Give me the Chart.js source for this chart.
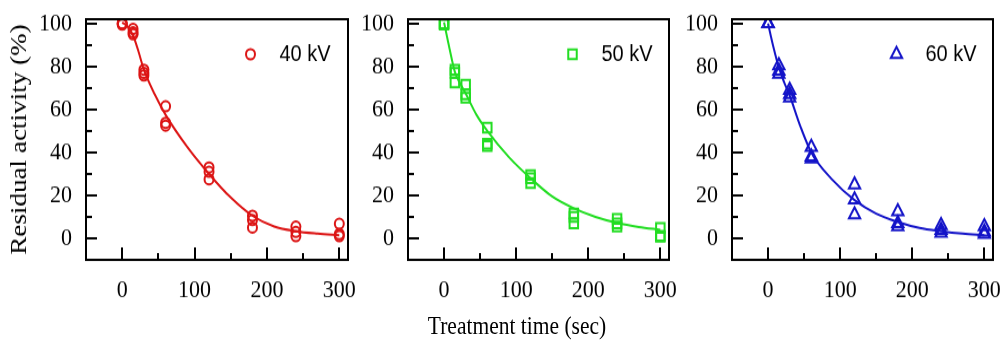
<!DOCTYPE html>
<html>
<head>
<meta charset="utf-8">
<script src="https://cdn.jsdelivr.net/npm/chart.js@4.4.0/dist/chart.umd.min.js"></script>
<style>
  html, body { margin: 0; padding: 0; background: #fff; }
  body { width: 1006px; height: 340px; overflow: hidden; }
  /* the source figure is slightly stretched vertically */
  #figure { position: relative; width: 1006px; height: 301px; transform: scaleY(1.1296); transform-origin: 0 0; }
  #figure canvas { position: absolute; top: 0; }
  #xTitle { position: absolute; left: 417px; top: 278px; width: 200px; text-align: center;
            font: 21.5px "Liberation Serif", "Times New Roman", serif; line-height: 22px; white-space: nowrap; color: #000; }
</style>
</head>
<body>
<div id="figure">
  <canvas id="panel40" width="356" height="301" style="left:0px"></canvas>
  <canvas id="panel50" width="324" height="301" style="left:356px"></canvas>
  <canvas id="panel60" width="326" height="301" style="left:680px"></canvas>
  <div id="xTitle">Treatment time (sec)</div>
</div>
<script>
// measured points, three replicates per treatment time
const sampleTimes = [0, 0, 0, 15, 15, 15, 30, 30, 30, 60, 60, 60, 120, 120, 120, 180, 180, 180, 240, 240, 240, 300, 300, 300];
const activity40 = [100, 100, 99.5, 97.5, 96, 95, 78.5, 77, 75.8, 61.5, 53.8, 52.5, 33, 31, 27.5, 10.5, 8.5, 5, 5.5, 3, 1, 6.8, 2, 1];
const activity50 = [100, 100, 99.5, 78.5, 77, 72.5, 71.5, 67, 65.5, 51.5, 44, 43, 29.5, 28, 25.8, 11.5, 10, 7, 9, 7, 5.5, 4.8, 1.2, 0.8];
const activity60 = [100, 100, 100, 80.5, 78, 76.5, 69, 67, 65.5, 42.5, 38, 37, 25, 18, 11, 12.5, 7, 5.5, 6, 3.8, 2.5, 5.5, 3, 2];

// fitted curves
const fitTimes = [0, 7.5, 15, 22.5, 30, 45, 60, 90, 120, 150, 180, 210, 240, 270, 300];
const fit40 = [100.5, 98.5, 94.5, 87, 78.5, 67, 57.5, 42.5, 30, 19, 10.5, 5.5, 3.3, 2.2, 1.5];
const fit50 = [100.5, 88.5, 77.5, 72, 67.4, 57.5, 50, 37.8, 28, 19.5, 14, 10, 7.2, 5.3, 4];
const fit60 = [100, 89, 79.5, 72.5, 66.5, 52, 40, 27, 17.8, 11.5, 7.6, 4.8, 3.3, 2.2, 1.5];

const xMajorTicks = [0, 100, 200, 300];
const xMinorTicks = [50, 150, 250];
const yMajorTicks = [0, 20, 40, 60, 80, 100];
const yMinorTicks = [10, 30, 50, 70, 90];

const serif = '"Liberation Serif", "Times New Roman", serif';
const sans = '"Liberation Sans", Arial, sans-serif';

// box around the plot, inward ticks and the small legend inside the plot
const framePlugin = {
  id: 'frame',
  afterDatasetsDraw(chart) {
    const { ctx, chartArea: a, scales: { x, y } } = chart;
    ctx.save();
    ctx.strokeStyle = '#000';
    ctx.lineWidth = 2;
    ctx.beginPath();
    yMajorTicks.forEach(v => { const p = Math.round(y.getPixelForValue(v)); ctx.moveTo(a.left, p); ctx.lineTo(a.left + 11, p); });
    yMinorTicks.forEach(v => { const p = Math.round(y.getPixelForValue(v)); ctx.moveTo(a.left, p); ctx.lineTo(a.left + 6, p); });
    xMajorTicks.forEach(v => { const p = Math.round(x.getPixelForValue(v)); ctx.moveTo(p, a.bottom); ctx.lineTo(p, a.bottom - 11); });
    xMinorTicks.forEach(v => { const p = Math.round(x.getPixelForValue(v)); ctx.moveTo(p, a.bottom); ctx.lineTo(p, a.bottom - 6); });
    ctx.stroke();
    ctx.strokeRect(a.left, a.top, a.right - a.left, a.bottom - a.top);

    const ds = chart.data.datasets[0];
    const lx = a.left + 164.5, ly = a.top + 31;
    ctx.strokeStyle = ds.pointBorderColor;
    ctx.fillStyle = 'rgba(0,0,0,0)';
    ctx.lineWidth = ds.pointBorderWidth;
    Chart.helpers.drawPoint(ctx, { pointStyle: ds.pointStyle, radius: ds.pointRadius, borderWidth: ds.pointBorderWidth, rotation: 0 }, lx, ly);
    ctx.fillStyle = '#000';
    ctx.font = '20px ' + sans;
    ctx.textBaseline = 'middle';
    ctx.textAlign = 'left';
    ctx.fillText(ds.label, a.left + 193.5, ly);
    ctx.restore();
  }
};

function makePanel(id, label, color, pointStyle, radius, values, fit, yWidth, padRight, showYTitle) {
  new Chart(document.getElementById(id), {
    type: 'scatter',
    data: {
      datasets: [{
        label: label,
        data: sampleTimes.map((t, i) => ({ x: t, y: values[i] })),
        showLine: false,
        pointStyle: pointStyle,
        pointRadius: radius,
        pointBorderWidth: 2,
        pointBorderColor: color,
        pointBackgroundColor: 'rgba(0,0,0,0)',
        borderColor: color,
        order: 0
      }, {
        label: label + ' fit',
        data: fitTimes.map((t, i) => ({ x: t, y: fit[i] })),
        showLine: true,
        pointRadius: 0,
        borderColor: color,
        borderWidth: 2,
        cubicInterpolationMode: 'monotone',
        fill: false,
        order: 1
      }]
    },
    options: {
      responsive: false,
      animation: false,
      events: [],
      layout: { padding: { left: 0, top: 17, right: padRight, bottom: 0 } },
      plugins: { legend: { display: false }, tooltip: { enabled: false } },
      scales: {
        x: {
          type: 'linear', min: -50, max: 312,
          grid: { display: false, drawTicks: false },
          border: { display: false },
          afterBuildTicks: s => { s.ticks = xMajorTicks.map(v => ({ value: v })); },
          afterFit: s => { s.height = 71; s.paddingLeft = 0; s.paddingRight = 0; },
          ticks: { color: '#000', font: { family: serif, size: 22 }, padding: 14, maxRotation: 0 }
        },
        y: {
          type: 'linear', min: -10, max: 102,
          grid: { display: false, drawTicks: false },
          border: { display: false },
          afterBuildTicks: s => { s.ticks = yMajorTicks.map(v => ({ value: v })); },
          afterFit: s => { s.width = yWidth; s.paddingTop = 0; s.paddingBottom = 0; },
          ticks: { color: '#000', font: { family: serif, size: 22 }, padding: 14 },
          title: {
            display: showYTitle, text: 'Residual activity (%)', color: '#000',
            font: { family: serif, size: 24 }, padding: { top: 5, bottom: 0 }
          }
        }
      }
    },
    plugins: [framePlugin]
  });
}

makePanel('panel40', '40 kV', '#dc1414', 'circle', 4.5, activity40, fit40, 86, 8, true);
makePanel('panel50', '50 kV', '#22dd22', 'rect', 6, activity50, fit50, 52, 11, false);
makePanel('panel60', '60 kV', '#1414c8', 'triangle', 6.5, activity60, fit60, 52, 13, false);
</script>
</body>
</html>
